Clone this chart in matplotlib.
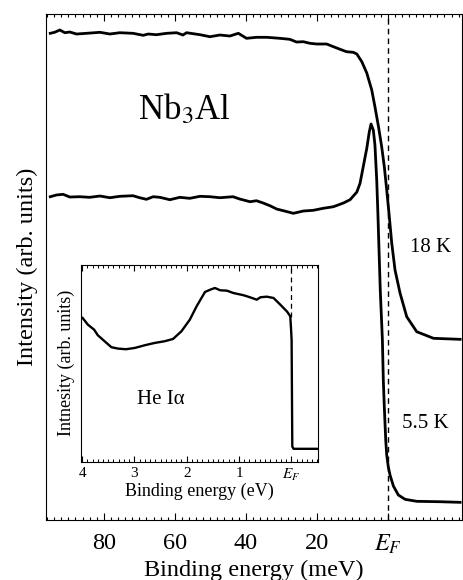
import matplotlib
matplotlib.use("Agg")
import matplotlib.pyplot as plt
from matplotlib.ticker import MultipleLocator, FixedLocator

plt.rcParams['font.family'] = ['Liberation Serif', 'DejaVu Serif']
plt.rcParams['mathtext.fontset'] = 'stix'

# ---- main panel data: binding energy (meV) vs intensity (arb. units)
e_18k = [95.1, 93.9, 92.4, 91.0, 89.6, 87.7, 84.9, 81.1, 78.3, 75.5, 71.8, 68.9,
         67.5, 65.2, 62.3, 59.5, 57.7, 56.7, 52.9, 50.1, 47.3, 44.5, 42.1, 39.8,
         37.0, 34.1, 30.4, 27.6, 25.7, 23.8, 21.9, 20.0, 17.2, 15.3, 13.4, 11.6,
         9.7, 8.7, 7.3, 5.9, 4.5, 3.6, 2.6, 1.7, 0.96, 0.28, -0.45, -1.13, -2.06,
         -3.47, -5.36, -8.18, -12.9, -20.4]
i_18k = [4.867, 4.877, 4.900, 4.873, 4.880, 4.860, 4.867, 4.877, 4.860, 4.873,
         4.867, 4.847, 4.860, 4.853, 4.867, 4.873, 4.850, 4.873, 4.853, 4.833,
         4.850, 4.840, 4.867, 4.817, 4.827, 4.827, 4.817, 4.807, 4.780, 4.783,
         4.767, 4.760, 4.760, 4.733, 4.707, 4.683, 4.677, 4.660, 4.583, 4.470,
         4.300, 4.133, 3.933, 3.733, 3.533, 3.300, 3.033, 2.770, 2.500, 2.270,
         2.033, 1.883, 1.817, 1.807]

e_55k = [95.1, 93.4, 91.5, 89.6, 86.8, 84.0, 81.1, 78.3, 75.5, 71.8, 69.9, 68.0,
         66.1, 64.2, 61.4, 58.6, 55.8, 52.9, 50.1, 47.3, 43.6, 41.7, 38.8, 37.0,
         35.1, 33.2, 31.3, 29.4, 26.6, 23.8, 21.0, 18.2, 15.3, 12.5, 10.6, 8.7,
         7.8, 6.9, 5.9, 5.2, 4.7, 4.06, 3.6, 3.1, 2.8, 2.45, 2.1, 1.5, 1.24, 0.96,
         0.56, 0.28, -0.17, -0.65, -1.6, -3.0, -4.9, -8.2, -14.8, -20.4]
i_55k = [3.233, 3.250, 3.257, 3.230, 3.233, 3.227, 3.240, 3.223, 3.237, 3.243,
         3.223, 3.207, 3.233, 3.227, 3.203, 3.227, 3.217, 3.237, 3.233, 3.223,
         3.233, 3.210, 3.183, 3.193, 3.170, 3.143, 3.110, 3.093, 3.067, 3.090,
         3.097, 3.117, 3.133, 3.170, 3.203, 3.280, 3.367, 3.533, 3.717, 3.880,
         3.960, 3.900, 3.750, 3.400, 3.100, 2.700, 2.300, 1.800, 1.400, 1.133,
         0.800, 0.650, 0.530, 0.450, 0.340, 0.250, 0.207, 0.187, 0.183, 0.177]

# ---- inset data: binding energy (eV) vs intensity (arb. units), He I alpha
e_hei = [3.99, 3.89, 3.77, 3.70, 3.57, 3.44, 3.31, 3.16, 2.99, 2.80, 2.61, 2.42,
         2.26, 2.10, 1.94, 1.81, 1.65, 1.55, 1.46, 1.36, 1.23, 1.11, 0.91, 0.79,
         0.66, 0.59, 0.47, 0.34, 0.21, 0.08, 0.02, 0.006, -0.006, -0.019, -0.044,
         -0.49]
i_hei = [1.437, 1.370, 1.320, 1.264, 1.204, 1.144, 1.130, 1.124, 1.137, 1.164,
         1.187, 1.204, 1.227, 1.304, 1.420, 1.554, 1.697, 1.720, 1.737, 1.714,
         1.710, 1.687, 1.664, 1.644, 1.620, 1.644, 1.650, 1.637, 1.570, 1.500,
         1.454, 1.337, 1.217, 0.150, 0.127, 0.127]

main_ticks = [80, 60, 40, 20, 0]
main_labels = ['80', '60', '40', '20', r'$E_F$']
inset_ticks = [4, 3, 2, 1, 0]
inset_labels = ['4', '3', '2', '1', r'$E_F$']

fig = plt.figure(figsize=(4.63, 5.80), dpi=100)
ax = fig.add_axes([0.0994, 0.1034, 0.8974, 0.8733])

ax.plot(e_18k, i_18k, color='k', lw=2.0)
ax.plot(e_55k, i_55k, color='k', lw=2.0)
ax.axvline(0, color='k', lw=1.0, ls=(0, (4, 3)))

ax.set_xlim(96.3, -20.8)
ax.set_ylim(0, 5.065)
ax.xaxis.set_major_locator(FixedLocator(main_ticks))
ax.set_xticklabels(main_labels)
ax.xaxis.set_minor_locator(MultipleLocator(2))
ax.set_yticks([])
ax.tick_params(axis='x', which='both', direction='in', top=True, labelsize=17.5, pad=9)
ax.tick_params(axis='x', which='major', length=5, width=0.8)
ax.tick_params(axis='x', which='minor', length=2.5, width=0.8)
ax.set_xlabel('Binding energy (meV)', fontsize=17.5, labelpad=3)
ax.set_ylabel('Intensity (arb. units)', fontsize=17.5, labelpad=6)

ax.text(57.2, 4.1, r'Nb$_3$Al', fontsize=25, ha='center', va='center')
ax.text(-12, 2.73, '18 K', fontsize=15, ha='center', va='center')
ax.text(-10.5, 0.97, '5.5 K', fontsize=15, ha='center', va='center')

# ---- inset
ins = fig.add_axes([0.1739, 0.2043, 0.5140, 0.3388])
ins.plot(e_hei, i_hei, color='k', lw=1.7)
ins.vlines(0, 1.45, 1.967, color='k', lw=0.9, linestyles=(0, (4, 3)))
ins.set_xlim(4.03, -0.52)
ins.set_ylim(0, 1.967)
ins.xaxis.set_major_locator(FixedLocator(inset_ticks))
ins.set_xticklabels(inset_labels)
ins.xaxis.set_minor_locator(MultipleLocator(0.1))
ins.set_yticks([])
ins.tick_params(axis='x', which='both', direction='in', top=True, labelsize=11, pad=4)
ins.tick_params(axis='x', which='major', length=4, width=0.8)
ins.tick_params(axis='x', which='minor', length=2, width=0.7)
ins.set_xlabel('Binding energy (eV)', fontsize=13, labelpad=0)
ins.set_ylabel('Intnesity (arb. units)', fontsize=13, labelpad=4)
ins.text(2.5, 0.62, 'He I\u03b1', fontsize=15, ha='center', va='center')

fig.savefig('out.png', dpi=100)
